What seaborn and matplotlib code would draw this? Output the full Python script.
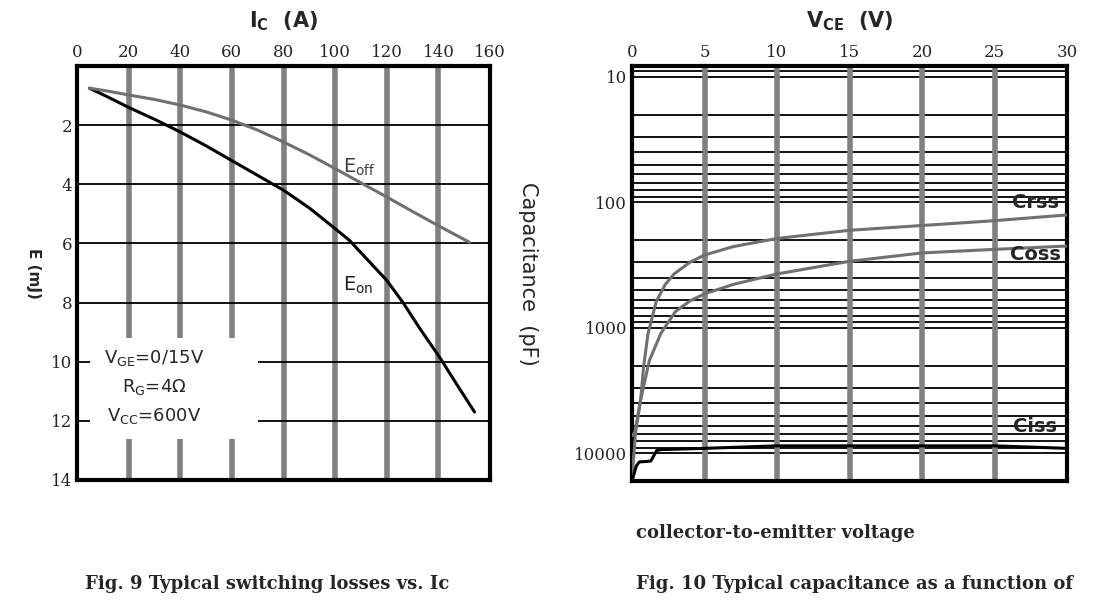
import matplotlib
matplotlib.use("Agg")
import matplotlib.pyplot as plt
import matplotlib.patches as mpatches
import numpy as np
import pandas as pd
import seaborn as sns

# Fig. 9 data (Ic in A, E in mJ)
ic_eon = [4.8, 12, 20, 30, 40, 50, 60, 70, 80, 90, 100, 105.6, 112, 120, 126.3, 133, 140.5, 147, 154]
e_on = [0.75, 1.05, 1.4, 1.8, 2.23, 2.7, 3.2, 3.7, 4.2, 4.8, 5.5, 5.9, 6.5, 7.25, 8.0, 8.9, 9.85, 10.75, 11.7]
ic_eoff = [4.8, 12, 20, 30, 40, 50, 60, 70, 80, 90, 100, 110, 120, 130, 140, 152]
e_off = [0.75, 0.85, 0.98, 1.13, 1.32, 1.55, 1.83, 2.17, 2.57, 3.0, 3.47, 3.95, 4.43, 4.92, 5.4, 5.96]

# Fig. 10 data (Vce in V, C in pF)
v_crss = [0, 0.25, 0.6, 0.8, 1.1, 1.67, 2.3, 2.9, 4, 5, 7, 10, 15, 20, 25, 30]
c_crss = [15800, 6760, 3720, 2040, 1120, 617, 450, 372, 300, 263, 225, 194, 167, 153, 140, 126]
v_coss = [0, 0.2, 0.6, 1.2, 2, 3, 4, 5, 7, 10, 15, 20, 25, 30]
c_coss = [7240, 6760, 3720, 1820, 1100, 741, 610, 536, 450, 372, 295, 253, 237, 223]
v_ciss = [0.05, 0.3, 0.5, 1.0, 1.3, 1.7, 2, 5, 10, 25, 30]
c_ciss = [15800, 12600, 11700, 11600, 11500, 9500, 9330, 9120, 8710, 8710, 9120]

sns.set_style("white")
plt.rcParams['font.family'] = ['DejaVu Serif']

fig = plt.figure(figsize=(10.93, 6.01), dpi=100)
ax1 = fig.add_axes([77/1093, 121/601, 413/1093, 414/601])
ax2 = fig.add_axes([632/1093, 120/601, 435/1093, 415/601])

gray = "#808080"

# ---- left chart
ax1.set_xlim(0, 160)
ax1.set_ylim(14, 0)
for x in range(20, 160, 20):
    ax1.axvline(x, color=gray, lw=4, zorder=1)
for y in range(2, 14, 2):
    ax1.axhline(y, color="black", lw=1.3, zorder=1)
# white label area that cuts the grid
ax1.add_patch(mpatches.Rectangle((5, 9.2), 65, 3.4, facecolor="white", edgecolor="none", zorder=2))
df_on = pd.DataFrame({"ic": ic_eon, "e": e_on})
df_off = pd.DataFrame({"ic": ic_eoff, "e": e_off})
sns.lineplot(data=df_on, x="ic", y="e", ax=ax1, color="black", lw=2.2, zorder=3)
sns.lineplot(data=df_off, x="ic", y="e", ax=ax1, color="#707070", lw=2.2, zorder=3)
ax1.text(30, 10.85, "V$_\\mathregular{GE}$=0/15V\nR$_\\mathregular{G}$=4Ω\nV$_\\mathregular{CC}$=600V",
         fontsize=13, ha="center", va="center", linespacing=1.6, zorder=4, family="DejaVu Sans")
ax1.text(103, 3.6, "E$_\\mathregular{off}$", fontsize=14, color="#404040", family="DejaVu Sans")
ax1.text(103, 7.6, "E$_\\mathregular{on}$", fontsize=14, color="#202020", family="DejaVu Sans")
ax1.set_xticks(range(0, 161, 20))
ax1.set_yticks(range(2, 15, 2))
ax1.xaxis.tick_top()
ax1.xaxis.set_label_position("top")
ax1.set_xlabel("I$_\\mathregular{C}$  (A)", fontsize=15, fontweight="bold", family="DejaVu Sans", labelpad=12)
ax1.set_ylabel("E (mJ)", fontsize=11, fontweight="bold", family="DejaVu Sans", rotation=270, labelpad=18)
ax1.tick_params(labelsize=12, length=0)

# ---- right chart
ax2.set_yscale("log")
ax2.set_xlim(0, 30)
ax2.set_ylim(16600, 8.2)
for x in range(5, 30, 5):
    ax2.axvline(x, color=gray, lw=4, zorder=1)
ax2.grid(True, which="both", axis="y", color="black", lw=1.3, zorder=1)
sns.lineplot(x=v_crss, y=c_crss, ax=ax2, color="#707070", lw=2.2, zorder=3)
sns.lineplot(x=v_coss, y=c_coss, ax=ax2, color="#707070", lw=2.2, zorder=3)
sns.lineplot(x=v_ciss, y=c_ciss, ax=ax2, color="black", lw=2.2, zorder=3)
ax2.text(27.8, 110, "Crss", fontsize=14, fontweight="bold", family="DejaVu Sans", ha="center", zorder=4)
ax2.text(27.8, 290, "Coss", fontsize=14, fontweight="bold", family="DejaVu Sans", ha="center", zorder=4)
ax2.text(27.8, 6760, "Ciss", fontsize=14, fontweight="bold", family="DejaVu Sans", ha="center", zorder=4)
ax2.set_xticks(range(0, 31, 5))
ax2.set_yticks([10, 100, 1000, 10000])
ax2.set_yticklabels(["10", "100", "1000", "10000"])
ax2.yaxis.set_minor_formatter(matplotlib.ticker.NullFormatter())
ax2.xaxis.tick_top()
ax2.xaxis.set_label_position("top")
ax2.set_xlabel("V$_\\mathregular{CE}$  (V)", fontsize=15, fontweight="bold", family="DejaVu Sans", labelpad=12)
ax2.set_ylabel("Capacitance  (pF)", fontsize=15, family="DejaVu Sans", rotation=270, labelpad=40)
ax2.tick_params(labelsize=12, length=0, which="both")

for ax in (ax1, ax2):
    for s in ax.spines.values():
        s.set_visible(True)
        s.set_color("black")
        s.set_linewidth(3)

fig.text(0.078, 0.02, "Fig. 9 Typical switching losses vs. Ic", fontsize=13, fontweight="bold")
fig.text(0.582, 0.02, "Fig. 10 Typical capacitance as a function of", fontsize=13, fontweight="bold")
fig.text(0.582, 0.105, "collector-to-emitter voltage", fontsize=13, fontweight="bold")

fig.savefig("out.png", dpi=100)
